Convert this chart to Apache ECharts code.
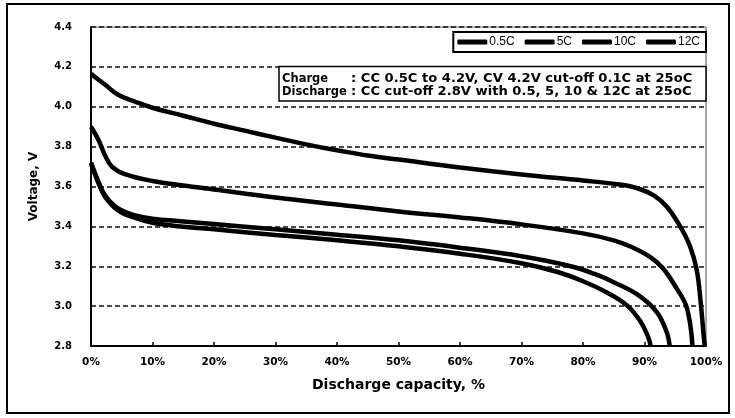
<!DOCTYPE html>
<html>
<head>
<meta charset="utf-8">
<script src="https://cdn.jsdelivr.net/npm/echarts@6/dist/echarts.min.js"></script>
<style>
html,body{margin:0;padding:0;background:#fff;}
#chart{width:735px;height:418px;}
</style>
</head>
<body>
<div id="chart"></div>
<script>
// ---- Data (discharge capacity %, voltage V) ----
const seriesNames = ['0.5C', '5C', '10C', '12C'];
const xTicks = [0, 10, 20, 30, 40, 50, 60, 70, 80, 90, 100];
const yTicks = [2.8, 3.0, 3.2, 3.4, 3.6, 3.8, 4.0, 4.2, 4.4];

const curve05C = [[0,4.165],[2.3,4.11],[4.4,4.06],[7.2,4.025],[10,3.995],[15,3.955],[20,3.915],[25,3.88],[30,3.845],[36,3.805],[40,3.782],[45,3.755],[50,3.735],[60,3.695],[70,3.66],[80,3.63],[86,3.61],[89,3.59],[91.5,3.555],[93.6,3.50],[95.8,3.40],[97.4,3.30],[98.5,3.18],[99.1,3.03],[99.6,2.86],[99.8,2.8]];
const curve5C = [[0,3.90],[1.2,3.835],[2.3,3.755],[3.4,3.70],[5.5,3.662],[10,3.628],[15,3.605],[20,3.585],[30,3.545],[40,3.51],[50,3.475],[60,3.445],[70,3.41],[80,3.365],[85,3.33],[88,3.295],[91,3.245],[93,3.19],[95.2,3.09],[96.9,2.99],[97.8,2.8]];
const curve10C = [[0,3.72],[1.2,3.625],[2.3,3.555],[4.4,3.49],[7.2,3.455],[10,3.438],[15,3.425],[20,3.412],[30,3.385],[40,3.358],[50,3.33],[60,3.293],[70,3.25],[78,3.2],[82,3.16],[85,3.12],[89,3.055],[92,2.97],[93.6,2.87],[94.1,2.8]];
const curve12C = [[0,3.715],[1.2,3.618],[2.3,3.548],[4.4,3.48],[7.2,3.442],[10,3.418],[15,3.398],[20,3.385],[30,3.357],[40,3.33],[50,3.3],[60,3.263],[70,3.215],[76,3.17],[80,3.125],[83.8,3.07],[87.1,3.005],[89.3,2.925],[90.6,2.845],[91,2.8]];
const curves = [curve05C, curve5C, curve10C, curve12C];

const chart = echarts.init(document.getElementById('chart'), null, {renderer: 'canvas'});
const tickFont = 'DejaVu Sans';

const option = {
  backgroundColor: '#fff',
  animation: false,
  grid: {left: 91, right: 29, top: 27, bottom: 72, show: true, borderColor: '#555', borderWidth: 1},
  legend: {
    data: seriesNames,
    right: 29, top: 32,
    orient: 'horizontal',
    icon: 'roundRect',
    itemWidth: 30, itemHeight: 5, itemGap: 10,
    padding: [4, 6, 4, 4],
    borderColor: '#000', borderWidth: 2,
    backgroundColor: '#fff',
    textStyle: {fontFamily: 'Liberation Sans', fontSize: 12, color: '#000', padding: [0, 0, 0, -3]},
    itemStyle: {color: '#000'}
  },
  xAxis: {
    type: 'value', min: xTicks[0], max: xTicks[xTicks.length - 1], interval: 10,
    name: 'Discharge capacity, %', nameLocation: 'middle', nameGap: 32,
    nameTextStyle: {fontFamily: tickFont, fontWeight: 'bold', fontSize: 14, color: '#000'},
    axisLine: {show: true, lineStyle: {color: '#000', width: 2}},
    axisTick: {show: true, inside: true, length: 4, lineStyle: {color: '#000', width: 1.5}},
    axisLabel: {formatter: '{value}%', fontFamily: tickFont, fontWeight: 'bold', fontSize: 10.5, color: '#000', margin: 11},
    splitLine: {show: false}
  },
  yAxis: {
    type: 'value', min: yTicks[0], max: yTicks[yTicks.length - 1], interval: 0.2,
    name: 'Voltage, V', nameLocation: 'middle', nameGap: 51, nameRotate: 90,
    nameTextStyle: {fontFamily: tickFont, fontWeight: 'bold', fontSize: 12, color: '#000'},
    axisLine: {show: true, lineStyle: {color: '#000', width: 2}},
    axisTick: {show: false},
    axisLabel: {formatter: v => v.toFixed(1), fontFamily: tickFont, fontWeight: 'bold', fontSize: 10, color: '#000', margin: 19},
    splitLine: {show: true, lineStyle: {color: '#111', width: 1.5, type: [5, 3]}}
  },
  series: seriesNames.map((n, i) => ({
    name: n, type: 'line', data: curves[i],
    showSymbol: false, symbol: 'none', smooth: 0.4,
    lineStyle: {color: '#000', width: 4.5},
    itemStyle: {color: '#000'},
    z: 5, clip: true
  })),
  graphic: [
    {type: 'rect', shape: {x: 7, y: 4, width: 722, height: 409}, style: {fill: 'none', stroke: '#000', lineWidth: 2}, z: 100},
    {type: 'rect', shape: {x: 279, y: 66.5, width: 427, height: 34.5}, style: {fill: '#fff', stroke: '#000', lineWidth: 1.5}, z: 50},
    {type: 'text', x: 282, y: 79, z: 51, style: {text: 'Charge', font: 'bold 11.5px "DejaVu Sans"', fill: '#000', verticalAlign: 'middle'}},
    {type: 'text', x: 282, y: 92.5, z: 51, style: {text: 'Discharge', font: 'bold 11.5px "DejaVu Sans"', fill: '#000', verticalAlign: 'middle'}},
    {type: 'text', x: 351, y: 79, z: 51, scaleX: 1.14, style: {text: ': CC 0.5C to 4.2V, CV 4.2V cut-off 0.1C at 25oC', font: 'bold 11.5px "DejaVu Sans"', fill: '#000', verticalAlign: 'middle'}},
    {type: 'text', x: 351, y: 92.5, z: 51, scaleX: 1.14, style: {text: ': CC cut-off 2.8V with 0.5, 5, 10 & 12C at 25oC', font: 'bold 11.5px "DejaVu Sans"', fill: '#000', verticalAlign: 'middle'}}
  ]
};
chart.setOption(option);
</script>
</body>
</html>
